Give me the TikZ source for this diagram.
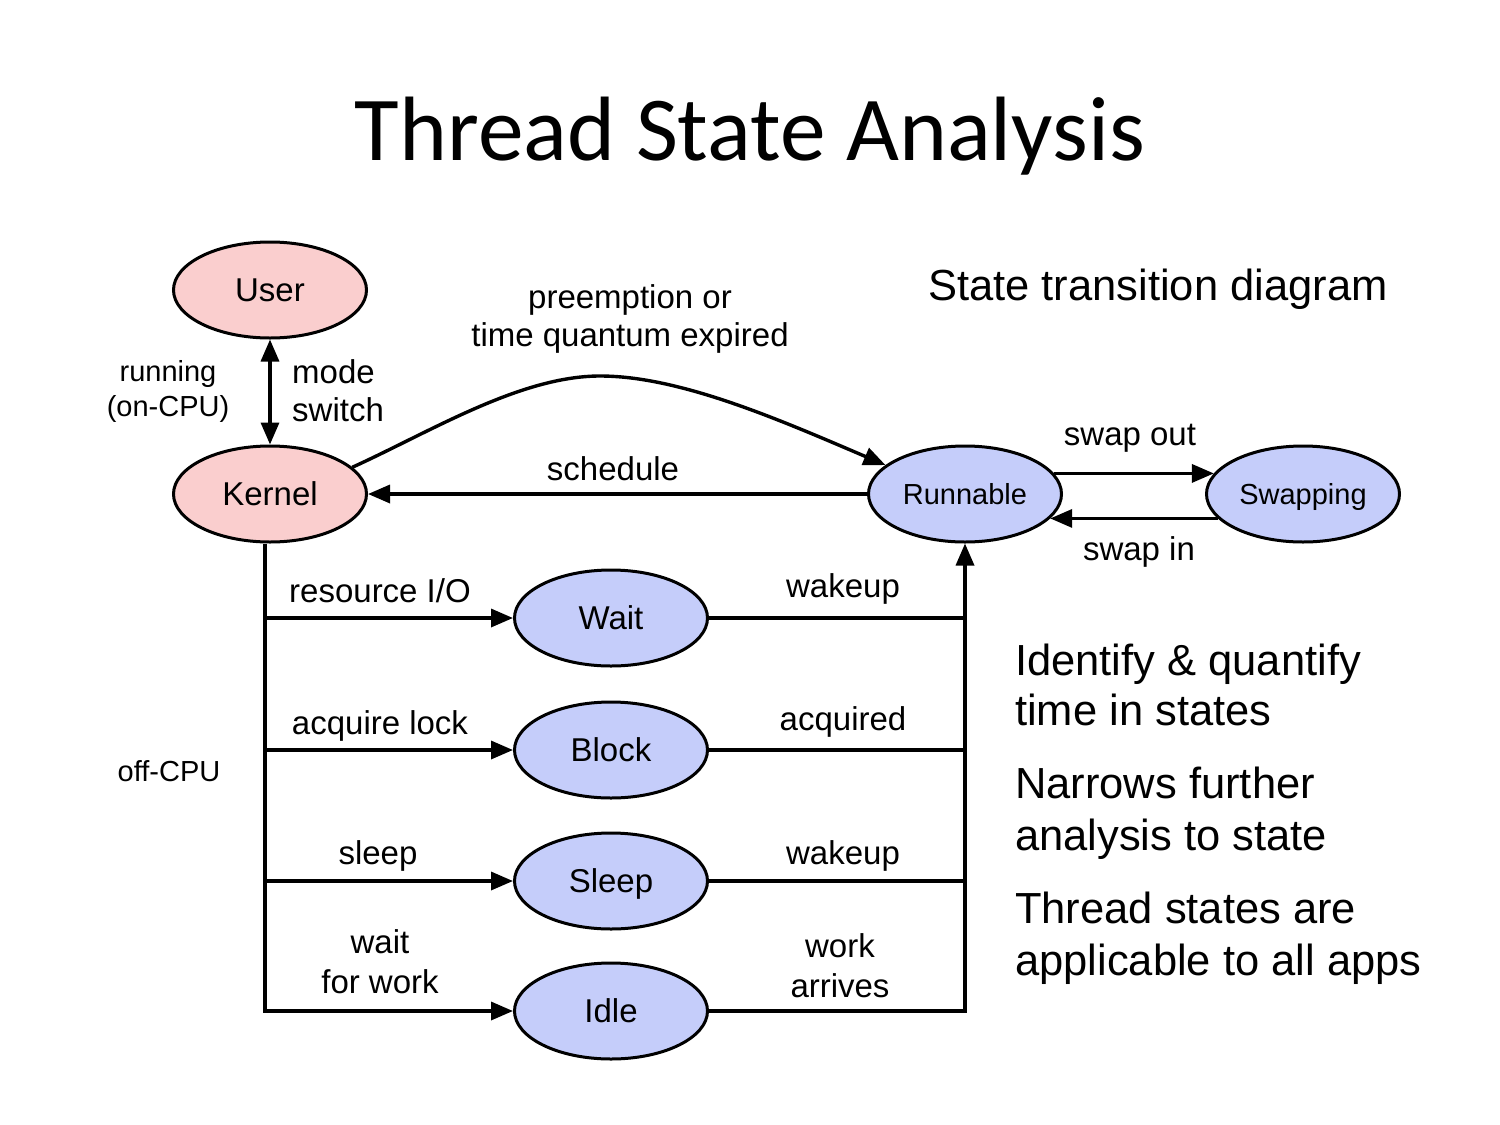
\documentclass[tikz,border=0pt]{standalone}
\usepackage{fontspec}
\setmainfont{Liberation Sans}
\newfontfamily\titlefont{Carlito}
\usetikzlibrary{shapes.geometric,arrows.meta}
\definecolor{pinkfill}{RGB}{250,206,206}
\definecolor{bluefill}{RGB}{197,205,250}
\begin{document}
\begin{tikzpicture}[x=1pt,y=-1pt,
  state/.style={ellipse,draw=black,line width=3pt,minimum width=193pt,minimum height=96pt,inner sep=0pt,text height=23.6pt,text depth=0pt,font=\fontsize{33}{38}\selectfont},
  user/.style={state,fill=pinkfill},
  blue/.style={state,fill=bluefill},
  smallstate/.style={blue,text height=20.8pt,font=\fontsize{29}{34}\selectfont},
  conn/.style={line width=3.4pt},
  arr/.style={conn,-{Triangle[length=22pt,width=18pt]}},
  dblarr/.style={conn,{Triangle[length=22pt,width=18pt]}-{Triangle[length=22pt,width=18pt]}},
  lbl/.style={inner sep=0pt,anchor=base,font=\fontsize{33}{38}\selectfont},
  small/.style={inner sep=0pt,anchor=base,font=\fontsize{29}{34}\selectfont},
  big/.style={inner sep=0pt,anchor=base west,font=\fontsize{43.5}{52}\selectfont}]
\fill[white] (0,0) rectangle (1500,1125);
\useasboundingbox (0,0) rectangle (1500,1125);

\node[inner sep=0pt,anchor=base,font=\titlefont\fontsize{91.4}{100}\selectfont] (title) at (750,160) {Thread State Analysis};

\node[user] (usr) at (270,290) {User};
\node[user] (kernel) at (270,494) {Kernel};
\node[smallstate] (run) at (965,494) {Runnable};
\node[smallstate] (swap) at (1303,494) {Swapping};
\node[blue] (wait) at (611,618) {Wait};
\node[blue] (block) at (611,750) {Block};
\node[blue] (sleep) at (611,881) {Sleep};
\node[blue] (idle) at (611,1011) {Idle};

\coordinate (trunk) at (265,0);
\coordinate (peak) at (600,376);

\draw[dblarr] (usr.south) -- (kernel.north);
\draw[arr] (run.west) -- (kernel.east);
\draw[arr] (kernel.18) .. controls (430,432) and (520,376) .. (peak) .. controls (680,376) and (780,420) .. (run.160);
\draw[arr] (run.13) -- (swap.167);
\draw[arr] (swap.196) -- (run.344);

\draw[arr] ([xshift=-5pt]kernel.south) |- (idle.west);
\draw[arr] (trunk |- wait.west) -- (wait.west);
\draw[arr] (trunk |- block.west) -- (block.west);
\draw[arr] (trunk |- sleep.west) -- (sleep.west);

\draw[arr] (idle.east) -| (run.south);
\draw[conn] (wait.east) -- (wait.east -| run.south);
\draw[conn] (block.east) -- (block.east -| run.south);
\draw[conn] (sleep.east) -- (sleep.east -| run.south);

\node[lbl] (l1) at (630,308) {preemption or};
\node[lbl] (l2) at (630,346) {time quantum expired};
\node[lbl] (l3) at (613,480) {schedule};
\node[lbl] (l4) at (1130,445) {swap out};
\node[lbl] (l5) at (1139,560) {swap in};
\node[lbl] (l6) at (380,602) {resource I/O};
\node[lbl] (l7) at (380,734) {acquire lock};
\node[lbl] (l8) at (378,864) {sleep};
\node[lbl] (l9) at (380,953) {wait};
\node[lbl] (l10) at (380,993) {for work};
\node[lbl] (l11) at (843,597) {wakeup};
\node[lbl] (l12) at (843,730) {acquired};
\node[lbl] (l13) at (843,864) {wakeup};
\node[lbl] (l14) at (840,957) {work};
\node[lbl] (l15) at (840,997) {arrives};
\node[lbl,anchor=base west] (l16) at (292,383) {mode};
\node[lbl,anchor=base west] (l17) at (292,421) {switch};
\node[small] (l18) at (168,381) {running};
\node[small] (l19) at (168,416) {(on-CPU)};
\node[small] (l20) at (169,781) {off-CPU};

\node[big] (t1) at (928,300) {State transition diagram};
\node[big] (t2) at (1015,675) {Identify \& quantify};
\node[big] (t3) at (1015,725) {time in states};
\node[big] (t4) at (1015,798) {Narrows further};
\node[big] (t5) at (1015,850) {analysis to state};
\node[big] (t6) at (1015,923) {Thread states are};
\node[big] (t7) at (1015,975) {applicable to all apps};
\end{tikzpicture}
\end{document}
